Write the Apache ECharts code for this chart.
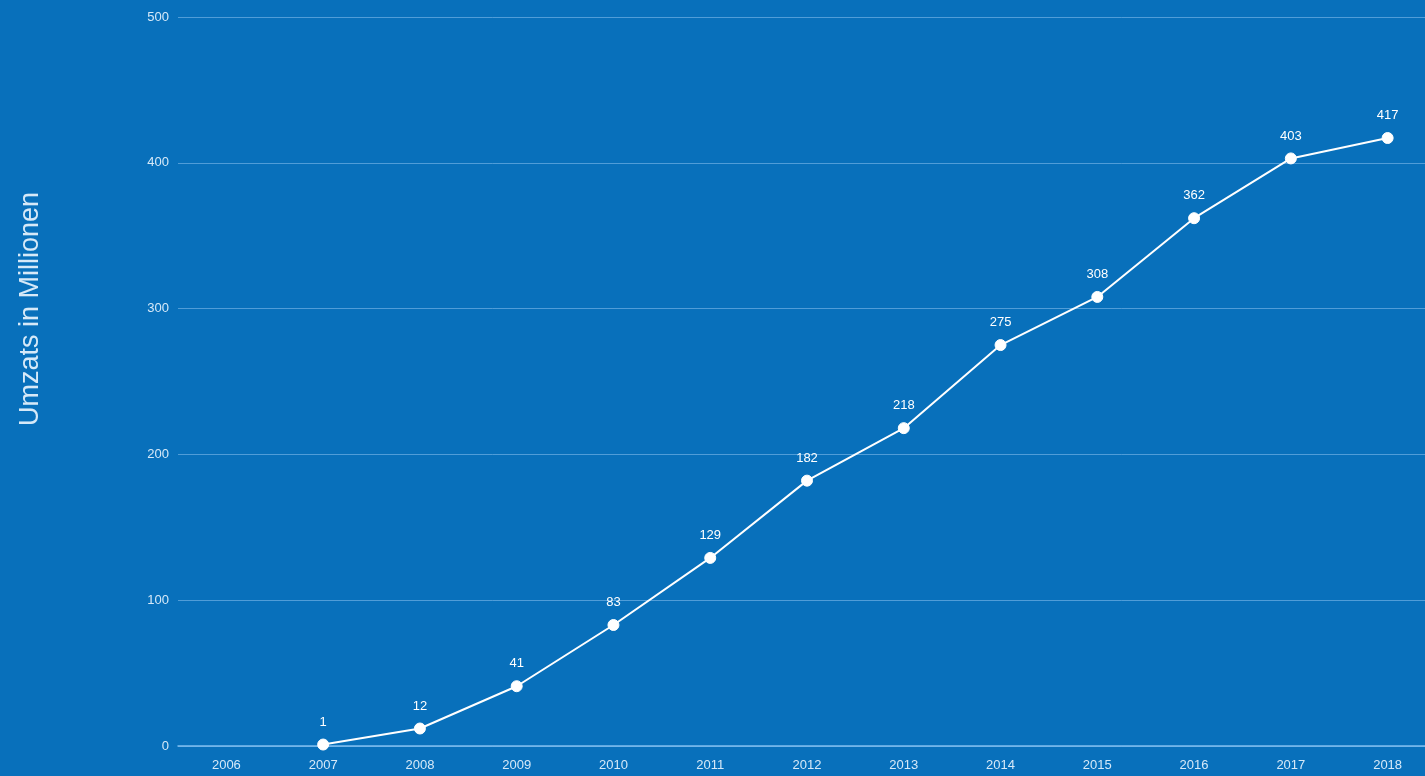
<!DOCTYPE html>
<html>
<head>
<meta charset="utf-8">
<script src="https://cdn.jsdelivr.net/npm/echarts@6/dist/echarts.min.js"></script>
<style>
  html, body { margin: 0; padding: 0; background: #0870bb; overflow: hidden; }
  #chart { width: 1436px; height: 776px; }
</style>
</head>
<body>
<div id="chart"></div>
<script>
const years = ["2006", "2007", "2008", "2009", "2010", "2011", "2012", "2013", "2014", "2015", "2016", "2017", "2018"];
const umsatz = [null, 1, 12, 41, 83, 129, 182, 218, 275, 308, 362, 403, 417];
const yTicks = { min: 0, max: 500, interval: 100 };
const font = "Arial, 'Liberation Sans', sans-serif";

const chart = echarts.init(document.getElementById("chart"));

const option = {
  backgroundColor: "#0870bb",
  animation: false,
  grid: { left: 178, right: 0, top: 17, bottom: 30 },
  graphic: [
    {
      type: "text",
      x: 31,
      y: 309,
      rotation: Math.PI / 2,
      style: {
        text: "Umzats in Millionen",
        fill: "#d6e9f8",
        font: "27px " + font,
        align: "center",
        verticalAlign: "middle"
      }
    }
  ],
  xAxis: {
    type: "category",
    data: years,
    boundaryGap: true,
    axisLine: { lineStyle: { color: "#7dbdf0", width: 1.5 } },
    axisTick: { show: false },
    axisLabel: { color: "#d6e9f8", fontSize: 13, margin: 13, fontFamily: font },
    splitLine: { show: false }
  },
  yAxis: {
    type: "value",
    min: yTicks.min,
    max: yTicks.max,
    interval: yTicks.interval,
    axisLine: { show: false },
    axisTick: { show: false },
    axisLabel: { color: "#d6e9f8", fontSize: 13, margin: 9, fontFamily: font },
    splitLine: { lineStyle: { color: "rgba(140,195,240,0.55)", width: 1 } }
  },
  series: [
    {
      name: "Umsatz",
      type: "line",
      data: umsatz,
      symbol: "circle",
      symbolSize: 11,
      showSymbol: true,
      lineStyle: { color: "#ffffff", width: 2 },
      itemStyle: { color: "#ffffff", borderColor: "#ffffff" },
      label: {
        show: true,
        position: "top",
        distance: 10,
        color: "#ffffff",
        fontSize: 13,
        fontFamily: font
      }
    }
  ]
};

chart.setOption(option);
</script>
</body>
</html>
